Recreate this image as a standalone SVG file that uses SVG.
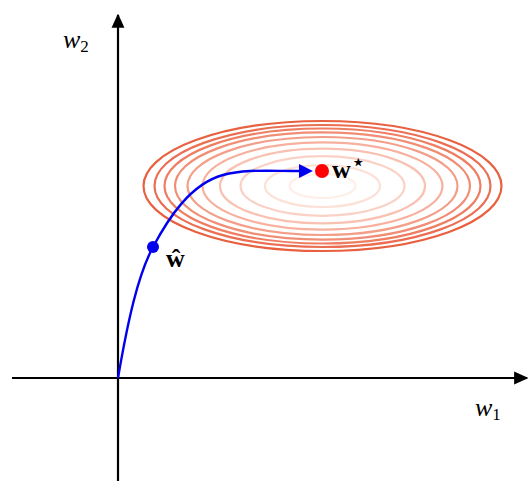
<svg xmlns="http://www.w3.org/2000/svg" width="530" height="500" viewBox="0 0 530 500">
<style>
.ax{stroke:#000;stroke-width:2.2;fill:none}
.lv{fill:none;stroke-width:2.2}
.lbl{font-family:"Liberation Serif","DejaVu Serif",serif;fill:#000}
.it{font-style:italic}
.bd{font-weight:bold}
</style>
<defs>
<marker id="ah" viewBox="0 0 10 10" refX="9" refY="5" markerWidth="6.5" markerHeight="6.5" markerUnits="strokeWidth" orient="auto">
<path d="M0,0.5 L10,5 L0,9.5 Z" fill="#000"/>
</marker>
<marker id="bh" viewBox="0 0 10 10" refX="1" refY="5" markerWidth="6" markerHeight="6" markerUnits="strokeWidth" orient="auto">
<path d="M0,0 L10,5 L0,10 Z" fill="#0000ee"/>
</marker>
</defs>
<g id="contours">
<ellipse class="lv" cx="322.5" cy="186" rx="179" ry="65" stroke="#e8603f"/>
<ellipse class="lv" cx="322.5" cy="186" rx="168" ry="61" stroke="#eb6e52"/>
<ellipse class="lv" cx="322.5" cy="186" rx="158" ry="57.5" stroke="#ee7d62"/>
<ellipse class="lv" cx="322.5" cy="186" rx="147.5" ry="53.6" stroke="#f08d74"/>
<ellipse class="lv" cx="322.5" cy="186" rx="135" ry="49" stroke="#f39e88"/>
<ellipse class="lv" cx="322.5" cy="186" rx="120" ry="43.6" stroke="#f6b09d"/>
<ellipse class="lv" cx="322.5" cy="186" rx="102.5" ry="37.3" stroke="#f8c1b1"/>
<ellipse class="lv" cx="322.5" cy="186" rx="82" ry="29.8" stroke="#fad2c5"/>
<ellipse class="lv" cx="322.5" cy="186" rx="57.5" ry="21" stroke="#fce1d7"/>
<ellipse class="lv" cx="322.5" cy="186" rx="33" ry="12" stroke="#feeee8"/>
</g>
<g id="axes">
<line class="ax" x1="12" y1="378" x2="527" y2="378" marker-end="url(#ah)"/>
<line class="ax" x1="118" y1="481" x2="118" y2="15" marker-end="url(#ah)"/>
<text class="lbl it" x="63" y="48" font-size="26">w<tspan font-size="17" font-style="normal" dy="4">2</tspan></text>
<text class="lbl it" x="475" y="416" font-size="26">w<tspan font-size="17" font-style="normal" dy="4">1</tspan></text>
</g>
<g id="connectors">
<path d="M118,378 C128,320 138,275 153,247 C168,219 190,184 223,175 C245,169 268,171 300,171" fill="none" stroke="#0000ee" stroke-width="2.4" marker-end="url(#bh)"/>
</g>
<g id="w-hat">
<circle cx="153" cy="247" r="6" fill="#0000ee"/>
<text class="lbl bd" x="166" y="267" font-size="26">ŵ</text>
</g>
<g id="w-star">
<circle cx="322" cy="171" r="7" fill="#ff0000"/>
<text class="lbl bd" x="332" y="178" font-size="26">w<tspan font-family="DejaVu Sans,sans-serif" font-size="24" font-weight="normal" dy="-8">⋆</tspan></text>
</g>
</svg>
